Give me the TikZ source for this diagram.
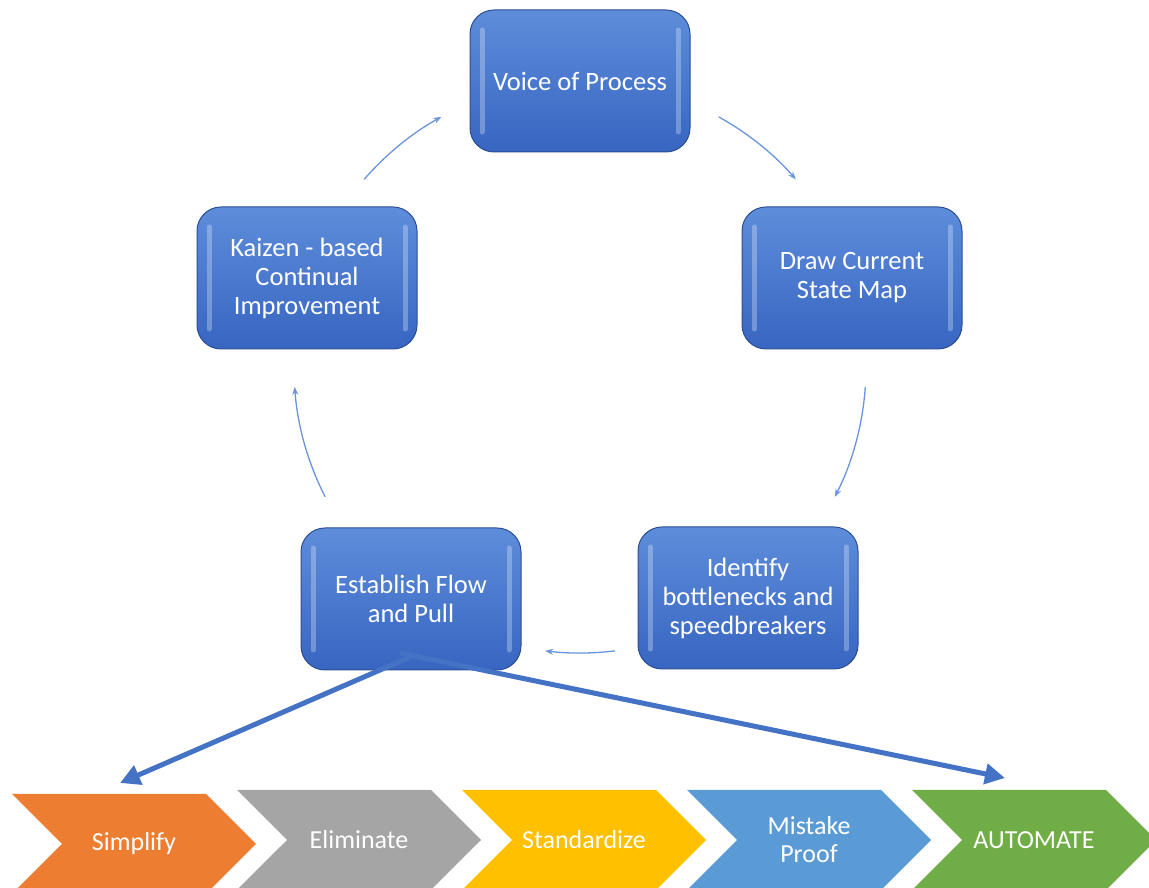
\documentclass[tikz,border=0pt]{standalone}
\usepackage{fontspec}
\setmainfont{Carlito}
\usetikzlibrary{arrows.meta,shapes.symbols}

\definecolor{boxtop}{HTML}{5E8DDB}
\definecolor{boxbot}{HTML}{3765C1}
\definecolor{boxline}{HTML}{2B4E93}
\definecolor{cyclecol}{HTML}{6A94DB}
\definecolor{linkcol}{HTML}{4472C4}
\definecolor{simplifycol}{HTML}{ED7D31}
\definecolor{eliminatecol}{HTML}{A5A5A5}
\definecolor{standardcol}{HTML}{FFC000}
\definecolor{mistakecol}{HTML}{5B9BD5}
\definecolor{automatecol}{HTML}{70AD47}

\begin{document}
\begin{tikzpicture}[
    x=1pt, y=1pt,
    process node/.style={rounded corners=24pt,minimum width=220pt,minimum height=142pt,
      top color=boxtop,bottom color=boxbot,draw=boxline,line width=1pt,
      text=white,align=center,font=\fontsize{26.5}{29}\selectfont,
      path picture={
        \draw[white,opacity=.28,line width=5pt,line cap=round]
          ([xshift=12pt,yshift=-20pt]path picture bounding box.north west) --
          ([xshift=12pt,yshift=20pt]path picture bounding box.south west);
        \draw[white,opacity=.28,line width=5pt,line cap=round]
          ([xshift=-12pt,yshift=-20pt]path picture bounding box.north east) --
          ([xshift=-12pt,yshift=20pt]path picture bounding box.south east);}},
    phase node/.style={signal,signal to=east,signal from=west,signal pointer angle=90,
      minimum width=244pt,minimum height=100pt,inner sep=0pt,
      text=white,align=center,font=\fontsize{26}{28}\selectfont},
    cycle arrow/.style={cyclecol,line width=1.3pt,-{Stealth[length=8pt,width=6pt]}},
    link arrow/.style={linkcol,line width=5pt,-{Triangle[length=20pt,width=20pt]}}]

  \useasboundingbox (0,0) rectangle (1149,888);

  % the improvement cycle
  \coordinate (hub) at (580,521);
  \node[process node] (Voice)     at (580,807) {Voice of Process};
  \node[process node] (DrawMap)   at (852,610) {Draw Current\\State Map};
  \node[process node] (Identify)  at (748,290) {Identify\\bottlenecks and\\speedbreakers};
  \node[process node] (Establish) at (411,289) {Establish Flow\\and Pull};
  \node[process node] (Kaizen)    at (307,610) {Kaizen - based\\Continual\\Improvement};

  \draw[cycle arrow] ([shift={(139:286)}]hub) arc[start angle=139,end angle=119,radius=286];
  \draw[cycle arrow] ([shift={(61:286)}]hub) arc[start angle=61,end angle=41,radius=286];
  \draw[cycle arrow] ([shift={(-4:286)}]hub) arc[start angle=-4,end angle=-27,radius=286];
  \draw[cycle arrow] ([shift={(-83:286)}]hub) arc[start angle=-83,end angle=-97,radius=286];
  \draw[cycle arrow] ([shift={(207:286)}]hub) arc[start angle=207,end angle=184,radius=286];

  % the steps of flow and pull
  \node[phase node,fill=simplifycol]  (Simplify)    at (134,44) {Simplify};
  \node[phase node,fill=eliminatecol] (Eliminate)   at (359,48) {Eliminate};
  \node[phase node,fill=standardcol]  (Standardize) at (584,48) {Standardize};
  \node[phase node,fill=mistakecol]   (MistakeProof) at (809,48) {Mistake\\Proof};
  \node[phase node,fill=automatecol]  (Automate)    at (1034,48) {AUTOMATE};

  \coordinate (linkA) at (410,231);
  \coordinate (linkB) at (400,235);
  \coordinate (tipA) at (120,105);
  \coordinate (tipB) at (1005,110);
  \draw[link arrow] (linkA) -- (tipA);
  \draw[link arrow] (linkB) -- (tipB);
\end{tikzpicture}
\end{document}
